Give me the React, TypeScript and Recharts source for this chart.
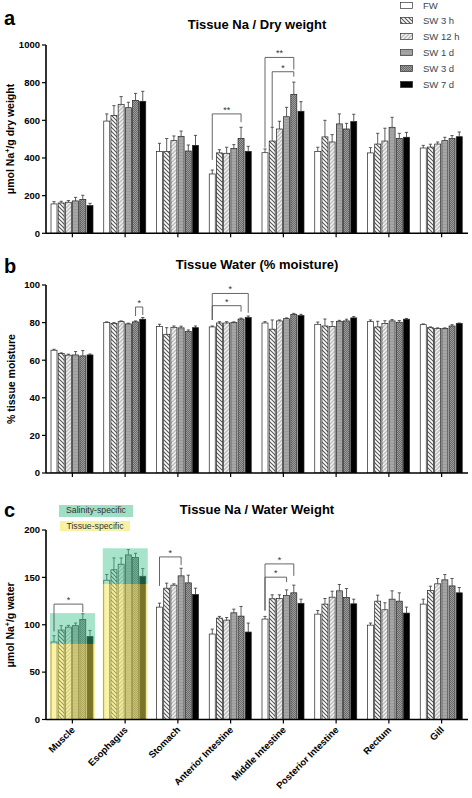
import React from 'react';
import { BarChart, Bar, XAxis, YAxis } from 'recharts';

const categories = ['Muscle', 'Esophagus', 'Stomach', 'Anterior Intestine', 'Middle Intestine', 'Posterior Intestine', 'Rectum', 'Gill'];
const seriesNames = ['FW', 'SW 3 h', 'SW 12 h', 'SW 1 d', 'SW 3 d', 'SW 7 d'];

// Panel a: Tissue Na / dry weight (rows = series)
const naDryMean = [
  [156, 596, 434, 315, 428, 435, 427, 453],
  [161, 625, 434, 427, 490, 512, 474, 458],
  [165, 685, 492, 425, 554, 485, 490, 474],
  [172, 667, 515, 450, 619, 581, 563, 492],
  [180, 706, 437, 504, 738, 554, 504, 503],
  [147, 701, 467, 435, 648, 593, 510, 513],
];
const naDryErr = [
  [12, 38, 44, 21, 20, 22, 28, 14],
  [9, 53, 69, 17, 73, 88, 57, 15],
  [9, 41, 25, 32, 41, 39, 68, 11],
  [19, 29, 28, 21, 50, 53, 53, 18],
  [22, 37, 32, 59, 65, 30, 27, 16],
  [12, 53, 53, 27, 51, 39, 26, 25],
];
const naDryTicks = [0, 200, 400, 600, 800, 1000];

// Panel b: Tissue water (% moisture)
const waterMean = [
  [65.3, 80.0, 77.9, 77.7, 79.8, 79.1, 80.5, 78.9],
  [63.5, 79.6, 73.8, 79.8, 76.5, 78.2, 77.7, 77.3],
  [62.7, 80.5, 77.5, 79.8, 80.9, 78.0, 79.6, 76.8],
  [62.8, 79.3, 77.2, 80.0, 82.1, 80.7, 80.9, 76.8],
  [62.3, 80.4, 75.2, 81.9, 84.4, 80.9, 80.2, 78.2],
  [62.8, 81.8, 77.3, 82.7, 83.7, 82.5, 81.8, 79.5],
];
const waterErr = [
  [0.5, 0.4, 1.2, 0.5, 0.7, 1.2, 0.9, 0.4],
  [0.4, 0.4, 3.5, 0.7, 4.9, 3.7, 3.0, 0.4],
  [0.5, 0.4, 0.7, 0.7, 0.5, 2.5, 1.4, 0.4],
  [1.8, 0.4, 0.9, 0.4, 0.4, 0.5, 0.7, 0.4],
  [2.8, 0.5, 0.9, 0.5, 0.5, 0.9, 0.9, 0.7],
  [0.5, 0.9, 0.9, 0.8, 0.7, 0.7, 0.4, 0.3],
];
const waterTicks = [0, 20, 40, 60, 80, 100];

// Panel c: Tissue Na / water weight
const naWaterMean = [
  [81.8, 147, 118.6, 90.2, 106, 111.2, 99.6, 121.8],
  [94.4, 158, 138.6, 107, 127.4, 121.8, 124.9, 136.1],
  [97.5, 163.9, 141.8, 104.9, 127.7, 129.1, 115.8, 143.2],
  [99, 173.7, 151.6, 112.6, 130.9, 135.8, 127, 147.4],
  [105.6, 170.9, 144.2, 109.1, 133.7, 128.8, 124.9, 141],
  [87.7, 151.2, 131.9, 92.3, 122.5, 122.1, 112.3, 133.7],
];
const naWaterErr = [
  [6.6, 6, 4.2, 5.2, 2.8, 3.8, 2.2, 5.2],
  [4.6, 12.5, 5.3, 1.8, 4.2, 5.9, 6.3, 4.6],
  [1.8, 6.6, 1.4, 2.8, 3.9, 6.3, 7.4, 5.6],
  [2.8, 5.6, 8, 3.9, 5.9, 6.7, 8.8, 5.6],
  [6, 4.5, 8.1, 10.2, 8.1, 9.4, 8.8, 7.8],
  [6.3, 8.1, 6.7, 9.5, 4.5, 4.9, 6.3, 5.6],
];
const naWaterTicks = [0, 50, 100, 150, 200];

type Bracket = { cat: number; from: number; to: number; top: number; leftEnd: number; rightEnd: number; label: string };
const naDryBrackets: Bracket[] = [
  { cat: 3, from: 0, to: 4, top: 634, leftEnd: 390, rightEnd: 590, label: '**' },
  { cat: 4, from: 0, to: 4, top: 934, leftEnd: 455, rightEnd: 870, label: '**' },
  { cat: 4, from: 1, to: 4, top: 858, leftEnd: 565, rightEnd: 832, label: '*' },
];
const waterBrackets: Bracket[] = [
  { cat: 1, from: 4, to: 5, top: 88.3, leftEnd: 83.5, rightEnd: 84, label: '*' },
  { cat: 3, from: 0, to: 5, top: 95.5, leftEnd: 81.4, rightEnd: 85.2, label: '*' },
  { cat: 3, from: 0, to: 4, top: 89, leftEnd: 81.4, rightEnd: 85.8, label: '*' },
];
const naWaterBrackets: Bracket[] = [
  { cat: 0, from: 0, to: 4, top: 121.8, leftEnd: 93, rightEnd: 113, label: '*' },
  { cat: 2, from: 0, to: 3, top: 171.6, leftEnd: 141, rightEnd: 163, label: '*' },
  { cat: 4, from: 0, to: 4, top: 164.2, leftEnd: 115, rightEnd: 151.6, label: '*' },
  { cat: 4, from: 0, to: 3, top: 150.2, leftEnd: 115, rightEnd: 145, label: '*' },
];
type Highlight = { cat: number; salinity: [number, number]; tissue: [number, number] };
const naWaterHighlights: Highlight[] = [
  { cat: 0, salinity: [80, 112.3], tissue: [0, 80] },
  { cat: 1, salinity: [143, 180.7], tissue: [0, 143] },
];

const FONT = '"Liberation Sans", Arial, Helvetica, sans-serif';
const BAR_GAP = 1.2;
const fills = ['#ffffff', 'url(#p3h)', 'url(#p12h)', 'url(#p1d)', 'url(#p3d)', '#000000'];
const GREEN = '#3cc48c';
const YELLOW = '#f2e850';

function buildRows(mean: number[][], err: number[][]) {
  return categories.map((c, i) => {
    const r: any = { name: c, idx: i };
    mean.forEach((s, k) => {
      r['s' + k] = s[i];
      r['e' + k] = err[k][i];
    });
    return r;
  });
}

function makeShape(k: number, brackets: Bracket[], highlights: Highlight[]) {
  return (props: any) => {
    const { x, y, width, height, payload } = props;
    const v = payload['s' + k];
    const e = payload['e' + k];
    const ppu = height / v;
    const base = y + height;
    const py = (val: number) => base - val * ppu;
    const cx = x + width / 2;
    const ey = py(v + e);
    const els: any[] = [];
    els.push(<line key="ev" x1={cx} x2={cx} y1={y} y2={ey} stroke="#333" strokeWidth={0.8} />);
    els.push(<line key="ec" x1={cx - 1.6} x2={cx + 1.6} y1={ey} y2={ey} stroke="#333" strokeWidth={0.8} />);
    els.push(<rect key="r" x={x} y={y} width={width} height={height} fill={fills[k]} stroke="#222" strokeWidth={0.7} />);
    if (k === 5) {
      const stride = width + BAR_GAP;
      const center = (j: number) => cx - (5 - j) * stride;
      const idx = payload.idx;
      highlights.filter((h) => h.cat === idx).forEach((h, hi) => {
        const x0 = center(0) - width / 2 - 1;
        const x1 = center(5) + width / 2 + 2;
        els.push(<rect key={'ht' + hi} x={x0} y={py(h.tissue[1])} width={x1 - x0} height={py(h.tissue[0]) - py(h.tissue[1])} fill={YELLOW} fillOpacity={0.5} />);
        els.push(<rect key={'hs' + hi} x={x0} y={py(h.salinity[1])} width={x1 - x0} height={py(h.salinity[0]) - py(h.salinity[1])} fill={GREEN} fillOpacity={0.45} />);
      });
      brackets.filter((b) => b.cat === idx).forEach((b, bi) => {
        const xl = center(b.from);
        const xr = center(b.to);
        const yt = py(b.top);
        els.push(
          <path key={'b' + bi} d={`M${xl},${py(b.leftEnd)} L${xl},${yt} L${xr},${yt} L${xr},${py(b.rightEnd)}`} fill="none" stroke="#555" strokeWidth={0.9} />
        );
        els.push(
          <text key={'bt' + bi} x={(xl + xr) / 2} y={yt - 1} textAnchor="middle" fontSize={9} fontFamily={FONT} fill="#333">
            {b.label}
          </text>
        );
      });
    }
    return <g>{els}</g>;
  };
}

const CatTick = (props: any) => {
  const { x, y, payload } = props;
  const px = x + 3;
  const py = y + 5;
  return (
    <text x={px} y={py} transform={`rotate(-45 ${px} ${py})`} textAnchor="end" fontSize={9.5} fontWeight={700} fontFamily={FONT} fill="#000">
      {payload.value}
    </text>
  );
};

const EmptyTick = () => <g />;

function Panel(p: {
  top: number;
  height: number;
  xAxisHeight: number;
  rows: any[];
  ticks: number[];
  brackets: Bracket[];
  highlights: Highlight[];
  showX: boolean;
}) {
  const domain = [p.ticks[0], p.ticks[p.ticks.length - 1]];
  return (
    <div style={{ position: 'absolute', left: 0, top: p.top, width: 472, height: p.height }}>
      <BarChart
        width={472}
        height={p.height}
        data={p.rows}
        margin={{ top: 45, right: 4, bottom: 0, left: 0 }}
        barGap={BAR_GAP}
        barCategoryGap={5}
      >
        <XAxis
          dataKey="name"
          interval={0}
          height={p.xAxisHeight}
          tickSize={4}
          axisLine={{ stroke: '#000', strokeWidth: 1.6 }}
          tickLine={{ stroke: '#000', strokeWidth: 1.2 }}
          tick={p.showX ? <CatTick /> : <EmptyTick />}
        />
        <YAxis
          type="number"
          domain={domain}
          ticks={p.ticks}
          interval={0}
          width={46}
          tickSize={4}
          tickMargin={2}
          allowDataOverflow
          axisLine={{ stroke: '#000', strokeWidth: 1.6 }}
          tickLine={{ stroke: '#000', strokeWidth: 1.2 }}
          tick={{ fontSize: 9.5, fontWeight: 700, fill: '#000', fontFamily: FONT }}
        />
        {seriesNames.map((n, k) => (
          <Bar
            key={n}
            name={n}
            dataKey={'s' + k}
            isAnimationActive={false}
            activeBar={false}
            shape={makeShape(k, p.brackets, p.highlights)}
          />
        ))}
      </BarChart>
    </div>
  );
}

const abs = (s: any) => ({ position: 'absolute' as const, ...s });

function YLabel({ cx, cy, children }: { cx: number; cy: number; children: any }) {
  return (
    <div
      style={abs({
        left: cx,
        top: cy,
        transform: 'translate(-50%, -50%) rotate(-90deg)',
        whiteSpace: 'nowrap',
        fontSize: 10.5,
        fontWeight: 700,
        lineHeight: '12px',
        fontFamily: FONT,
        color: '#000',
      })}
    >
      {children}
    </div>
  );
}

function Title({ top, text }: { top: number; text: string }) {
  return (
    <div style={abs({ left: 0, top, width: 514, textAlign: 'center', fontSize: 13, lineHeight: '13px', fontWeight: 700, fontFamily: FONT, color: '#000' })}>
      {text}
    </div>
  );
}

function Letter({ top, text }: { top: number; text: string }) {
  return (
    <div style={abs({ left: 4, top, fontSize: 20, lineHeight: '20px', fontWeight: 700, fontFamily: FONT, color: '#000' })}>{text}</div>
  );
}

export default function App() {
  const rowsA = buildRows(naDryMean, naDryErr);
  const rowsB = buildRows(waterMean, waterErr);
  const rowsC = buildRows(naWaterMean, naWaterErr);
  const sup = <sup style={{ fontSize: 7, verticalAlign: 'baseline', position: 'relative', top: -4 }}>+</sup>;
  return (
    <div style={abs({ left: 0, top: 0, width: 472, height: 798, background: '#fff', overflow: 'hidden', fontFamily: FONT })}>
      <svg width={0} height={0} style={{ position: 'absolute' }}>
        <defs>
          <pattern id="p3h" patternUnits="userSpaceOnUse" width={4} height={4}>
            <rect width={4} height={4} fill="#fff" />
            <path d="M-1,-1 L5,5 M-1,3 L1,5 M3,-1 L5,1" stroke="#555" strokeWidth={1.1} />
          </pattern>
          <pattern id="p12h" patternUnits="userSpaceOnUse" width={4} height={4}>
            <rect width={4} height={4} fill="#bdbdbd" />
            <path d="M-1,5 L5,-1 M-1,1 L1,-1 M3,5 L5,3" stroke="#f4f4f4" strokeWidth={1.3} />
          </pattern>
          <pattern id="p1d" patternUnits="userSpaceOnUse" width={3} height={3}>
            <rect width={3} height={3} fill="#a6a6a6" />
            <rect y={2} width={3} height={0.6} fill="#949494" />
          </pattern>
          <pattern id="p3d" patternUnits="userSpaceOnUse" width={2} height={2}>
            <rect width={2} height={2} fill="#6a6a6a" />
            <rect width={1} height={1} fill="#9c9c9c" />
            <rect x={1} y={1} width={1} height={1} fill="#9c9c9c" />
          </pattern>
        </defs>
      </svg>

      <Panel top={0} height={240} xAxisHeight={6.7} rows={rowsA} ticks={naDryTicks} brackets={naDryBrackets} highlights={[]} showX={false} />
      <Panel top={240} height={240} xAxisHeight={7} rows={rowsB} ticks={waterTicks} brackets={waterBrackets} highlights={[]} showX={false} />
      <Panel top={485} height={313} xAxisHeight={78.5} rows={rowsC} ticks={naWaterTicks} brackets={naWaterBrackets} highlights={naWaterHighlights} showX={true} />

      <Letter top={8} text="a" />
      <Letter top={256} text="b" />
      <Letter top={500} text="c" />

      <Title top={18} text="Tissue Na / Dry weight" />
      <Title top={257.6} text="Tissue Water (% moisture)" />
      <Title top={503} text="Tissue Na / Water Weight" />

      <YLabel cx={11} cy={139}>
        μmol Na{sup}/g dry weight
      </YLabel>
      <YLabel cx={11} cy={379}>
        % tissue moisture
      </YLabel>
      <YLabel cx={11} cy={625}>
        μmol Na{sup}/g water
      </YLabel>

      {seriesNames.map((n, i) => (
        <div key={n} style={abs({ left: 400, top: 5 + i * 15.8 - 6, height: 12, display: 'flex', alignItems: 'center' })}>
          <svg width={13} height={7} style={{ display: 'block' }}>
            <rect x={0.4} y={0.4} width={12.2} height={6.2} fill={fills[i]} stroke="#333" strokeWidth={0.7} />
          </svg>
          <span style={{ marginLeft: 10, fontSize: 9.5, color: '#444', fontFamily: FONT, whiteSpace: 'nowrap' }}>{n}</span>
        </div>
      ))}

      <div style={abs({ left: 59, top: 505, width: 74, height: 11.5, background: '#9fdfc3', fontSize: 8.7, lineHeight: '11.5px', textAlign: 'center', color: '#333', fontFamily: FONT })}>
        Salinity-specific
      </div>
      <div style={abs({ left: 60, top: 520.5, width: 70, height: 10.5, background: '#f7f1a6', fontSize: 8.7, lineHeight: '10.5px', textAlign: 'center', color: '#333', fontFamily: FONT })}>
        Tissue-specific
      </div>
    </div>
  );
}
